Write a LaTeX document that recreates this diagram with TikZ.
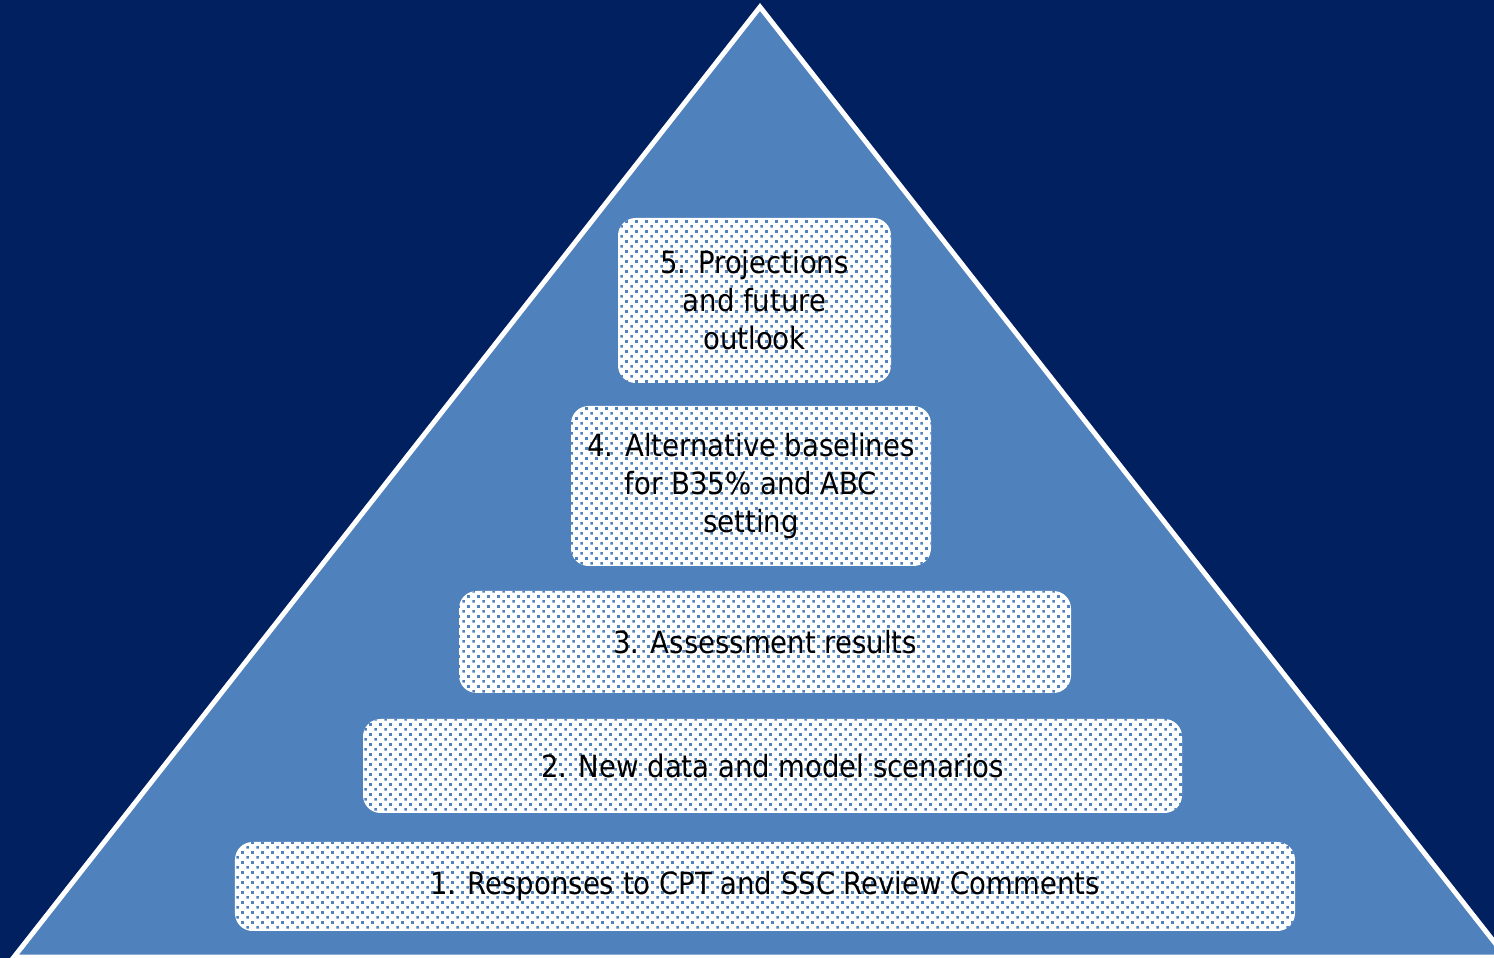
\documentclass[tikz,border=0pt]{standalone}
\usepackage{fontspec}
\setmainfont{DejaVu Sans Condensed}
\usepackage{tikz}
\usetikzlibrary{patterns}

% small square dots on a staggered grid
\pgfdeclarepatternformonly{tierdots}{\pgfqpoint{0pt}{0pt}}{\pgfqpoint{2.8pt}{2.8pt}}{\pgfqpoint{2.8pt}{2.8pt}}{
  \pgfpathrectangle{\pgfqpoint{0.1pt}{0.1pt}}{\pgfqpoint{0.75pt}{0.75pt}}
  \pgfpathrectangle{\pgfqpoint{1.5pt}{1.5pt}}{\pgfqpoint{0.75pt}{0.75pt}}
  \pgfusepath{fill}
}

\definecolor{navy}{RGB}{0,32,96}
\definecolor{pyramidblue}{RGB}{79,129,189}

\begin{document}
\begin{tikzpicture}[
  tier/.style={rectangle, rounded corners=5pt, align=center, inner sep=2pt,
    preaction={fill=white}, pattern=tierdots, pattern color=pyramidblue,
    font=\fontsize{8.7}{10.8}\selectfont, text=black}
]

% ===== Background =====
\fill[navy] (0,0) rectangle (14.94,9.58);
\useasboundingbox (0,0) rectangle (14.94,9.58);

% ===== Pyramid =====
\begin{scope}
  \clip (0,0) rectangle (14.94,9.58);
  \draw[white, line width=1.4pt, fill=pyramidblue, line join=miter]
    (7.60,9.51) -- (0.14,0.01) -- (15.06,0.01) -- cycle;
\end{scope}

% ===== Tiers, top to bottom =====
\node[tier, minimum width=2.73cm, minimum height=1.65cm] at (7.545, 6.575) (outlook) {5. Projections\\and future\\outlook};
\node[tier, minimum width=3.60cm, minimum height=1.60cm] at (7.51, 4.72) (baselines) {4. Alternative baselines\\for B35\% and ABC\\setting};
\node[tier, minimum width=6.12cm, minimum height=1.02cm] at (7.65, 3.16) (results) {3. Assessment results};
\node[tier, minimum width=8.19cm, minimum height=0.94cm] at (7.725, 1.92) (scenarios) {2. New data and model scenarios};
\node[tier, minimum width=10.60cm, minimum height=0.89cm] at (7.65, 0.715) (responses) {1. Responses to CPT and SSC Review Comments};

\end{tikzpicture}
\end{document}
